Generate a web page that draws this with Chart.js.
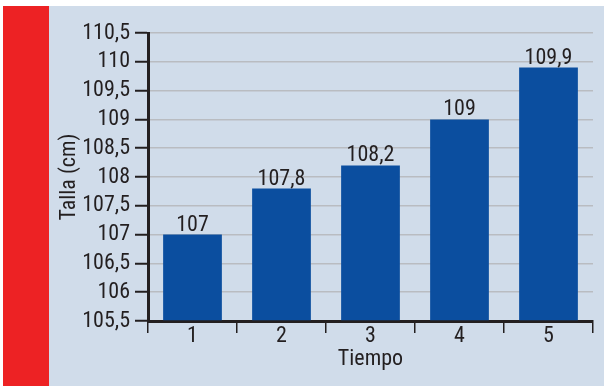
<!DOCTYPE html>
<html>
<head>
<meta charset="utf-8">
<script src="https://cdn.jsdelivr.net/npm/chart.js@4/dist/chart.umd.min.js"></script>
<style>
  html, body { margin: 0; padding: 0; background: #ffffff; }
  #wrap { width: 604px; height: 386px; position: relative; }
</style>
</head>
<body>
<div id="wrap"><canvas id="c" width="604" height="386"></canvas></div>
<script>
const categories = ['1', '2', '3', '4', '5'];
const tallaValues = [107, 107.8, 108.2, 109, 109.9];
const yTickValues = [105.5, 106, 106.5, 107, 107.5, 108, 108.5, 109, 109.5, 110, 110.5];

const FONT = "'Liberation Sans Narrow', 'Roboto Condensed', 'DejaVu Sans Condensed', 'Liberation Sans', sans-serif";
const TEXT = '#231f20';
const GRID = '#b9bcc1';
const fmt = v => String(v).replace('.', ',');

const bgPlugin = {
  id: 'bg',
  beforeDraw(chart) {
    const ctx = chart.ctx;
    ctx.save();
    ctx.fillStyle = '#ffffff';
    ctx.fillRect(0, 0, chart.width, chart.height);
    ctx.fillStyle = '#d0dcea';
    ctx.fillRect(3, 6, chart.width - 3, chart.height - 6);
    ctx.fillStyle = '#ed2224';
    ctx.fillRect(3, 6, 46, chart.height - 6);
    ctx.restore();
  }
};

const labelPlugin = {
  id: 'barLabels',
  afterDatasetsDraw(chart) {
    const ctx = chart.ctx;
    const meta = chart.getDatasetMeta(0);
    ctx.save();
    ctx.font = '22px ' + FONT;
    ctx.fillStyle = TEXT;
    ctx.textAlign = 'center';
    ctx.textBaseline = 'alphabetic';
    meta.data.forEach((bar, i) => {
      ctx.fillText(fmt(chart.data.datasets[0].data[i]), bar.x, bar.y - 4);
    });
    ctx.restore();
  }
};

new Chart(document.getElementById('c'), {
  type: 'bar',
  data: {
    labels: categories,
    datasets: [{
      data: tallaValues,
      backgroundColor: '#0b4e9f',
      borderWidth: 0,
      categoryPercentage: 1,
      barPercentage: 0.66,
      base: 105.5
    }]
  },
  options: {
    responsive: false,
    animation: false,
    devicePixelRatio: 1,
    layout: { padding: { left: 0, top: 33, right: 11, bottom: 0 } },
    plugins: {
      legend: { display: false },
      tooltip: { enabled: false }
    },
    scales: {
      x: {
        offset: true,
        grid: {
          offset: true,
          color: c => (c.index === 5 ? GRID : 'rgba(0,0,0,0)'),
          lineWidth: 1.5,
          tickColor: TEXT,
          tickLength: 12,
          tickWidth: 1.5
        },
        border: { display: true, color: TEXT, width: 3 },
        ticks: { color: TEXT, font: { family: FONT, size: 22 }, padding: -10, maxRotation: 0 },
        title: { display: true, text: 'Tiempo', color: TEXT, font: { family: FONT, size: 22 }, padding: { top: 0, bottom: 13 } },
        afterFit: s => { s.height = 65; }
      },
      y: {
        min: 105.5,
        max: 110.5,
        afterBuildTicks: s => { s.ticks = yTickValues.map(v => ({ value: v })); },
        grid: {
          color: GRID,
          lineWidth: 1.5,
          tickColor: TEXT,
          tickLength: 13,
          tickWidth: 2
        },
        border: { display: true, color: TEXT, width: 3 },
        ticks: { color: TEXT, font: { family: FONT, size: 22 }, padding: 5, autoSkip: false, callback: v => fmt(v) },
        title: { display: true, text: 'Talla (cm)', color: TEXT, font: { family: FONT, size: 22 }, padding: { top: 56, bottom: 0 } },
        afterFit: s => { s.width = 148; }
      }
    }
  },
  plugins: [bgPlugin, labelPlugin]
});
</script>
</body>
</html>
